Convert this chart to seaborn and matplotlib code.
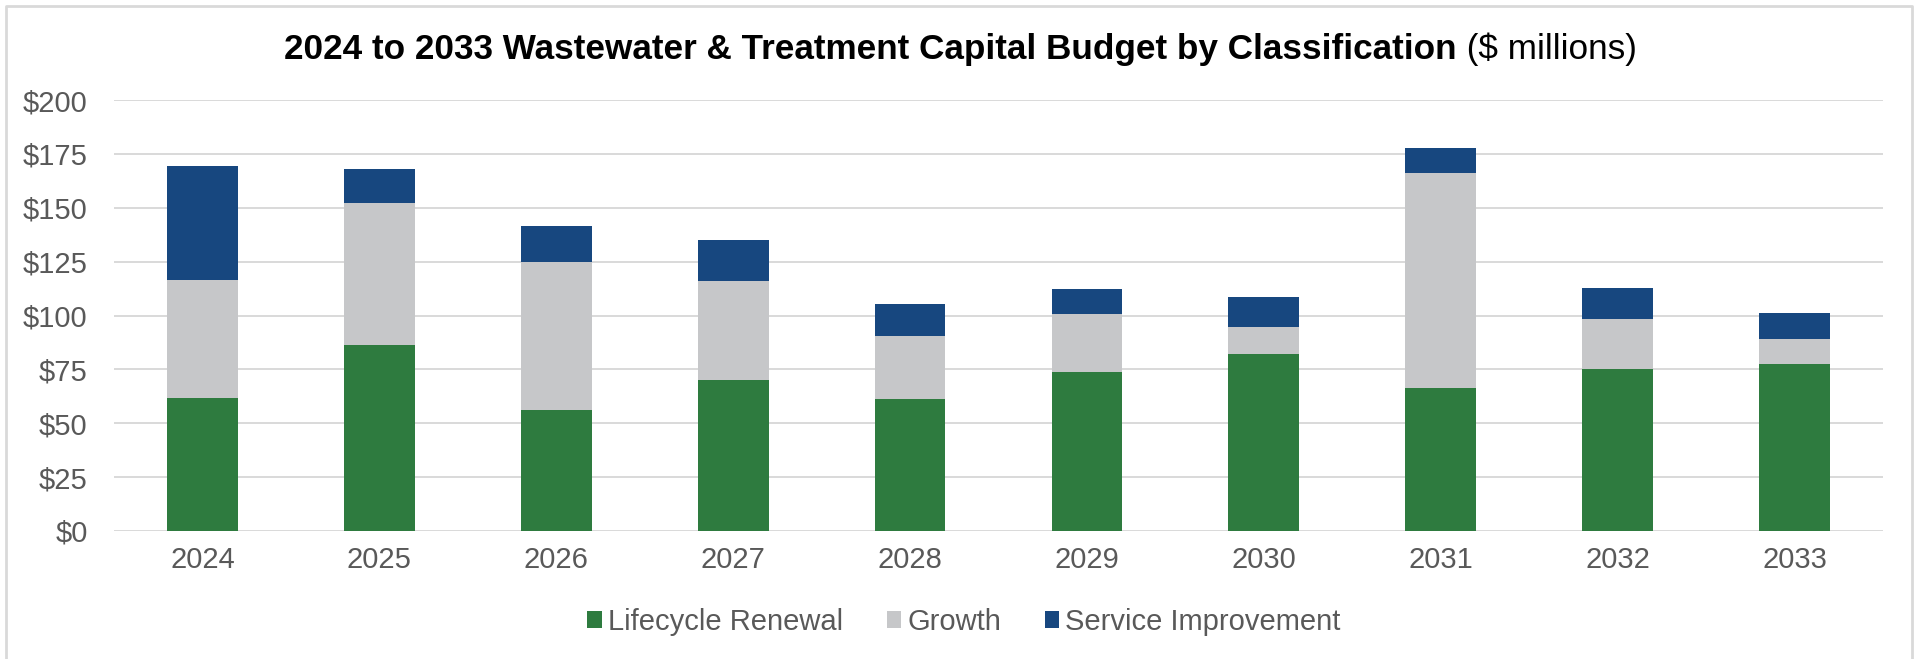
import matplotlib
matplotlib.use("Agg")
import matplotlib.pyplot as plt
from matplotlib.patches import Patch
from matplotlib.lines import Line2D
import seaborn as sns
import pandas as pd
import numpy as np

# values ($ millions)
years = ["2024", "2025", "2026", "2027", "2028", "2029", "2030", "2031", "2032", "2033"]
lifecycle_renewal = [61.7, 86.3, 56.0, 69.9, 61.4, 73.9, 82.3, 66.2, 75.0, 77.6]
growth = [54.6, 65.9, 69.0, 46.0, 29.1, 27.0, 12.5, 99.8, 23.2, 11.3]
service_improvement = [52.9, 15.8, 16.4, 19.3, 14.7, 11.2, 13.6, 11.9, 14.7, 12.4]

series_names = ["Lifecycle Renewal", "Growth", "Service Improvement"]
colors = ["#2E7B3F", "#C6C7C9", "#17477F"]

df = pd.DataFrame({
    "year": years,
    "Lifecycle Renewal": lifecycle_renewal,
    "Growth": growth,
    "Service Improvement": service_improvement,
})
# cumulative tops, drawn tallest first so each layer covers the one behind
df["top_green"] = df["Lifecycle Renewal"]
df["top_gray"] = df["top_green"] + df["Growth"]
df["top_blue"] = df["top_gray"] + df["Service Improvement"]

sns.set_style("white")
plt.rcParams["font.family"] = ["Liberation Sans", "DejaVu Sans"]

W, H = 1921, 659
fig = plt.figure(figsize=(W / 100, H / 100), dpi=100)
ax = fig.add_axes([114 / W, 1 - 531 / H, (1883 - 114) / W, (531 - 100) / H])

for col, c in zip(["top_blue", "top_gray", "top_green"], colors[::-1]):
    sns.barplot(data=df, x="year", y=col, color=c, width=0.4, ax=ax,
                saturation=1, edgecolor="none", linewidth=0, zorder=3)

ax.set_ylim(0, 200)
ax.set_xlim(-0.5, len(years) - 0.5)
ax.set_yticks(np.arange(0, 201, 25))
ax.set_yticklabels([f"${v}" for v in range(0, 201, 25)])
ax.grid(axis="y", color="#D9D9D9", linewidth=1.4, zorder=0)
ax.grid(axis="x", visible=False)
ax.set_axisbelow(True)
for s in ax.spines.values():
    s.set_visible(False)
ax.set_xlabel("")
ax.set_ylabel("")
ax.tick_params(axis="y", length=0, pad=19, labelsize=21, labelcolor="#595959")
ax.tick_params(axis="x", length=0, pad=11, labelsize=21, labelcolor="#595959")

# legend
handles = [Patch(facecolor=c, edgecolor="none") for c in colors]
fig.legend(handles, series_names, loc="center", bbox_to_anchor=(964 / W, 1 - 622 / H),
           ncol=3, frameon=False, fontsize=21, labelcolor="#595959",
           handlelength=0.5, handleheight=0.5, handletextpad=0.2, columnspacing=1.5)

# title: bold part plus regular part, centred together
ty = 1 - 49 / H
t1 = fig.text(0.5, ty, "2024 to 2033 Wastewater & Treatment Capital Budget by Classification",
              fontsize=25.3, fontweight="bold", color="black", ha="left", va="center")
t2 = fig.text(0.5, ty, " ($ millions)", fontsize=25.3, color="black", ha="left", va="center")
fig.canvas.draw()
r = fig.canvas.get_renderer()
w1 = t1.get_window_extent(r).width / fig.bbox.width
w2 = t2.get_window_extent(r).width / fig.bbox.width
x0 = 0.5 - (w1 + w2) / 2
t1.set_x(x0)
t2.set_x(x0 + w1)

# light chart border (left, top, right; the bottom runs off the image)
bx0, bx1, by0 = 6 / W, 1912 / W, 1 - 6 / H
fig.lines.append(Line2D([bx0, bx0, bx1, bx1], [0, by0, by0, 0], transform=fig.transFigure,
                        color="#D9D9D9", linewidth=2))

fig.savefig("out.png", dpi=100)
